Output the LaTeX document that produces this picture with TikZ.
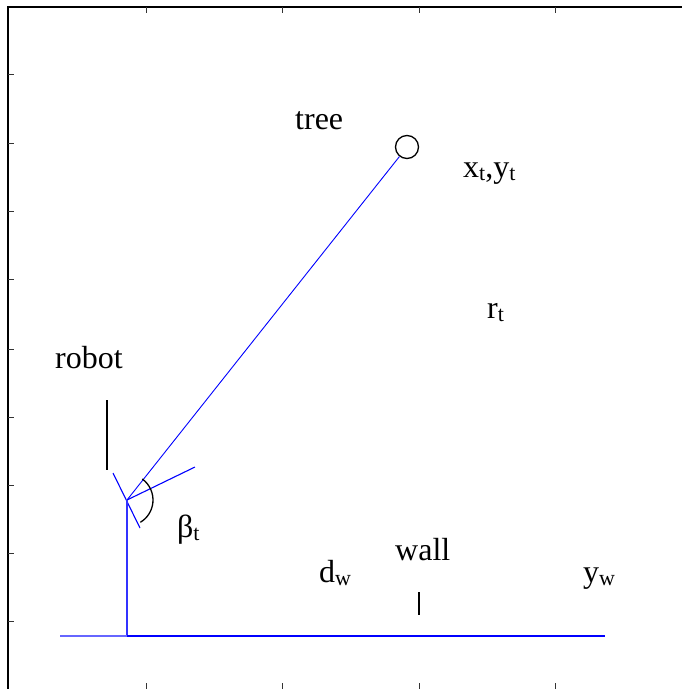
\documentclass[tikz,border=0pt]{standalone}
\usepackage{fontspec}
\setmainfont{Liberation Serif}
\newcommand\sbs[1]{\raisebox{-3.5pt}{\fontsize{22}{22}\selectfont #1}}
\tikzset{
  frame/.style={line width=1.6pt, black},
  tick/.style={line width=0.8pt, black!80},
  blueline/.style={blue, line width=0.9pt},
  lbl/.style={anchor=base west, inner sep=0pt, font=\fontsize{32}{36}\selectfont},
}
\begin{document}
\begin{tikzpicture}[x=1pt,y=-1pt]
\useasboundingbox (0,0) rectangle (682,689);
% axes frame
\draw[frame] (8,689) -- (8,7) -- (682,7);
\foreach \x in {146,282,419,555} {
  \draw[tick] (\x,7) -- (\x,13);
  \draw[tick] (\x,689) -- (\x,683);
}
\foreach \y in {74,143,211,279,349,417,485,553,621} {
  \draw[tick] (8,\y) -- (14,\y);
}
% objects
\coordinate (R) at (127,500);
\node[circle, draw, line width=1.3pt, minimum size=23pt, inner sep=0pt] (T) at (407,147) {};
\draw[blueline] (R) -- (T);
\coordinate (H) at (195,467);
\draw[blueline, line width=1.1pt] (R) -- (H);
\coordinate (S1) at (113,473);
\coordinate (S2) at (140,528);
\draw[blueline, line width=1.1pt] (S1) -- (S2);
\coordinate (RB1) at (107,400);
\coordinate (RB2) at (107,470);
\draw[line width=1.6pt] (RB1) -- (RB2);
\draw[line width=1.3pt] ([shift={(-54:26)}]R) arc[start angle=-54, end angle=59, radius=26];
\coordinate (G) at (127,636);
\coordinate (WL) at (60,636);
\coordinate (WR) at (605,636);
\draw[blue!80, line width=1.1pt] (R) -- (G);
\draw[blue!60, line width=1.6pt] (WL) -- (G);
\draw[blue, line width=1.8pt] (G) -- (WR);
\coordinate (M1) at (419,592);
\coordinate (M2) at (419,615);
\draw[line width=1.3pt] (M1) -- (M2);
% labels
\node[lbl] (ltree) at (295,129) {tree};
\node[lbl] (lxy) at (463,177) {x\sbs{t},y\sbs{t}};
\node[lbl] (lr) at (487,318) {r\sbs{t}};
\node[lbl] (lrobot) at (55,368) {robot};
\node[lbl] (lbeta) at (177,537) {β\sbs{t}};
\node[lbl] (ldw) at (319,582) {d\sbs{w}};
\node[lbl] (lwall) at (395,560) {wall};
\node[lbl] (lyw) at (583,582) {y\sbs{w}};
\end{tikzpicture}
\end{document}
